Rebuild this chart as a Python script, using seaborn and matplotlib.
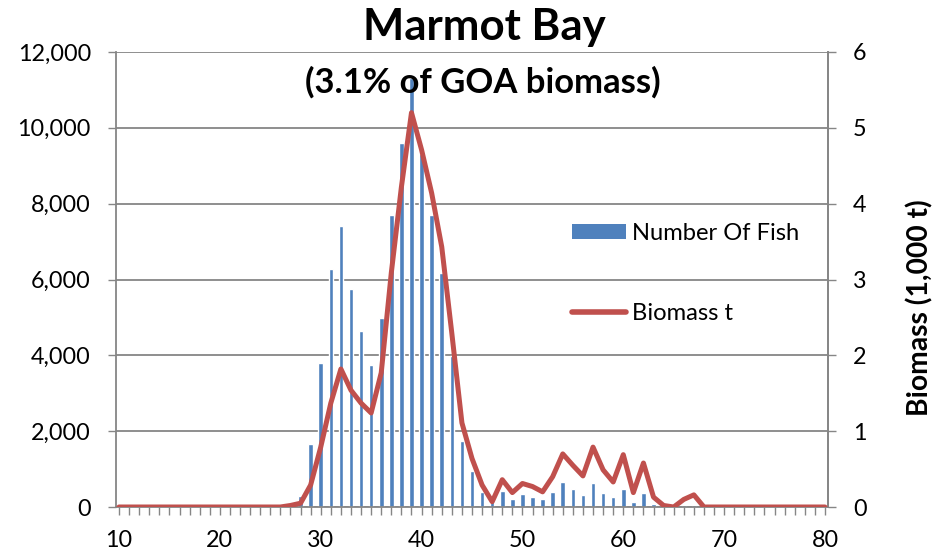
import matplotlib
matplotlib.use("Agg")
import matplotlib.pyplot as plt
import seaborn as sns
from matplotlib.ticker import FuncFormatter, MultipleLocator
from matplotlib.patches import Patch
from matplotlib.lines import Line2D

# ---------------- data ----------------
lengths = [10, 11, 12, 13, 14, 15, 16, 17, 18, 19,
           20, 21, 22, 23, 24, 25, 26, 27, 28, 29,
           30, 31, 32, 33, 34, 35, 36, 37, 38, 39,
           40, 41, 42, 43, 44, 45, 46, 47, 48, 49,
           50, 51, 52, 53, 54, 55, 56, 57, 58, 59,
           60, 61, 62, 63, 64, 65, 66, 67, 68, 69,
           70, 71, 72, 73, 74, 75, 76, 77, 78, 79, 80]

number_of_fish = [0, 0, 0, 0, 0, 0, 0, 0, 0, 0,
                  0, 0, 0, 0, 0, 0, 0, 0, 300, 1650,
                  3790, 6290, 7410, 5760, 4630, 3740, 4980, 7690, 9610, 11320,
                  9300, 7700, 6180, 3970, 1750, 940, 400, 150, 420, 210,
                  340, 270, 200, 390, 650, 480, 320, 620, 370, 260,
                  480, 120, 370, 80, 20, 20, 40, 60, 0, 0,
                  0, 0, 0, 0, 0, 0, 0, 0, 0, 0, 0]

biomass_t = [0, 0, 0, 0, 0, 0, 0, 0, 0, 0,
             0, 0, 0, 0, 0, 0, 0, 0.02, 0.05, 0.29,
             0.79, 1.37, 1.82, 1.54, 1.37, 1.24, 1.77, 3.09, 4.22, 5.2,
             4.71, 4.14, 3.43, 2.29, 1.11, 0.64, 0.29, 0.07, 0.36, 0.19,
             0.31, 0.27, 0.20, 0.40, 0.70, 0.55, 0.41, 0.79, 0.49, 0.33,
             0.69, 0.19, 0.58, 0.13, 0.02, 0.0, 0.10, 0.16, 0, 0,
             0, 0, 0, 0, 0, 0, 0, 0, 0, 0, 0]

title = "Marmot Bay"
subtitle = "(3.1% of GOA biomass)"
bar_label = "Number Of Fish"
line_label = "Biomass t"
right_label = "Biomass (1,000 t)"

BLUE = "#4F81BD"
RED = "#C0504D"
GRAY = "#868686"

sns.set_style("white")
plt.rcParams['font.family'] = ['Lato', 'DejaVu Sans']
plt.rcParams['text.color'] = 'black'
plt.rcParams['xtick.labelcolor'] = 'black'
plt.rcParams['ytick.labelcolor'] = 'black'

fig = plt.figure(figsize=(9.37, 5.52), dpi=100)
renderer = fig.canvas.get_renderer()


def fit_size(text, target_px, weight='normal'):
    t = fig.text(0, 0, text, fontsize=10, fontweight=weight)
    w = t.get_window_extent(renderer).width
    t.remove()
    return 10 * target_px / w


tick_fs = fit_size("12,000", 73)
title_fs = fit_size(title, 243, 'bold')
sub_fs = fit_size(subtitle, 355, 'bold')
leg_fs = fit_size(bar_label, 167)
rlab_fs = fit_size(right_label, 217, 'bold')

ax = fig.add_axes([116 / 937, 1 - 507 / 552, (828 - 116) / 937, (507 - 52) / 552])

sns.barplot(x=lengths, y=number_of_fish, native_scale=True, width=0.45,
            color=BLUE, saturation=1, errorbar=None, ax=ax, zorder=2)

ax.set_xlim(9.7, 80.3)
ax.set_ylim(0, 12000)
ax.yaxis.set_major_locator(MultipleLocator(2000))
ax.yaxis.set_major_formatter(FuncFormatter(lambda v, p: f"{int(v):,}"))
ax.xaxis.set_major_locator(MultipleLocator(10))
ax.xaxis.set_minor_locator(MultipleLocator(1))
ax.xaxis.set_major_formatter(FuncFormatter(lambda v, p: f"{int(v)}"))
ax.grid(axis='y', color=GRAY, lw=1.3, zorder=0)
ax.set_axisbelow(True)
ax.set_xlabel("")
ax.set_ylabel("")
for s in ['left', 'bottom', 'right']:
    ax.spines[s].set_color(GRAY)
    ax.spines[s].set_linewidth(1.3)
ax.spines['top'].set_visible(False)
ax.tick_params(axis='x', which='both', direction='out', length=5.5, width=1,
               color=GRAY, labelsize=tick_fs, pad=11, bottom=True,
               labelcolor='black')
ax.tick_params(axis='y', which='major', direction='out', length=6, width=1,
               color=GRAY, labelsize=tick_fs, pad=12, left=True,
               labelcolor='black')

ax2 = ax.twinx()
sns.lineplot(x=lengths, y=biomass_t, ax=ax2, color=RED, lw=3.6,
             solid_joinstyle='round', solid_capstyle='round', zorder=3)
ax2.set_ylim(0, 6)
ax2.set_xlim(9.7, 80.3)
ax2.yaxis.set_major_locator(MultipleLocator(1))
ax2.yaxis.set_major_formatter(FuncFormatter(lambda v, p: f"{int(v)}"))
for s in ['top', 'left', 'bottom']:
    ax2.spines[s].set_visible(False)
ax2.spines['right'].set_color(GRAY)
ax2.spines['right'].set_linewidth(1.3)
ax2.tick_params(axis='y', direction='out', length=6, width=1, color=GRAY,
                labelsize=tick_fs, pad=12, right=True, labelcolor='black')
ax2.set_ylabel("")

fig.text(920 / 937, 1 - 308 / 552, right_label, fontsize=rlab_fs, fontweight='bold',
         rotation=90, ha='center', va='center', color='black')
fig.text(484 / 937, 1 - 40 / 552, title, fontsize=title_fs, fontweight='bold',
         ha='center', va='baseline', color='black')
fig.text(483 / 937, 1 - 93 / 552, subtitle, fontsize=sub_fs, fontweight='bold',
         ha='center', va='baseline', color='black')

leg_px = leg_fs * 100 / 72
handles = [Patch(facecolor=BLUE, edgecolor='none', label=bar_label),
           Line2D([0], [0], color=RED, lw=4, solid_capstyle='round', label=line_label)]
leg = ax2.legend(handles=handles, loc='upper left', bbox_to_anchor=(0.641, 0.625),
                 frameon=False, fontsize=leg_fs, handlelength=54 / leg_px,
                 handleheight=14 / leg_px, handletextpad=0.25,
                 labelspacing=82 / leg_px - 0.95, borderpad=0, borderaxespad=0)
for t in leg.get_texts():
    t.set_color('black')

fig.savefig("out.png", dpi=100, facecolor='white')
